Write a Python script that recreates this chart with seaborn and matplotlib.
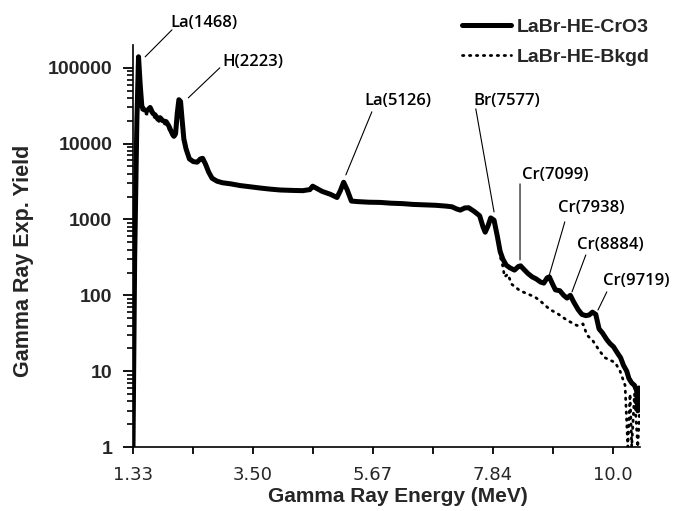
import matplotlib
matplotlib.use("Agg")
import matplotlib.pyplot as plt
from matplotlib.ticker import FixedLocator, NullFormatter
import seaborn as sns
import pandas as pd

# ---------------- data ----------------
energy_cro3 = [1.33, 1.36, 1.40, 1.43, 1.46, 1.49, 1.53, 1.58, 1.64, 1.69, 1.73, 1.78, 1.82,
               1.87, 1.93, 1.98, 2.03, 2.07, 2.10, 2.13, 2.16, 2.19, 2.22, 2.25, 2.29, 2.35,
               2.42, 2.49, 2.55, 2.59, 2.64, 2.70, 2.76, 2.85, 2.95, 3.10, 3.27, 3.45, 3.63,
               3.80, 3.99, 4.20, 4.40, 4.53, 4.58, 4.62, 4.75, 4.90, 5.02, 5.08, 5.14, 5.20,
               5.28, 5.40, 5.60, 5.80, 6.00, 6.20, 6.40, 6.60, 6.80, 7.00, 7.10, 7.18, 7.25,
               7.33, 7.40, 7.50, 7.60, 7.66, 7.70, 7.75, 7.80, 7.86, 7.92, 7.97, 8.02, 8.08,
               8.15, 8.23, 8.30, 8.34, 8.40, 8.47, 8.55, 8.62, 8.70, 8.76, 8.82, 8.86, 8.92,
               8.97, 9.05, 9.12, 9.18, 9.24, 9.30, 9.38, 9.45, 9.52, 9.58, 9.64, 9.70, 9.76,
               9.82, 9.90, 9.96, 10.02, 10.10, 10.15, 10.20, 10.26, 10.30, 10.35, 10.40,
               10.44, 10.46, 10.48, 10.50]
yield_cro3 = [1, 300, 20000, 140000, 60000, 31000, 28000, 27000, 30000, 25000, 24000, 21000, 22000,
              20000, 19500, 17000, 14000, 12500, 13500, 25000, 38000, 36000, 20000, 11500, 8500, 6300,
              5800, 5700, 6300, 6400, 5400, 4200, 3500, 3200, 3050, 2950, 2800, 2700, 2600,
              2520, 2450, 2420, 2400, 2480, 2750, 2650, 2350, 2150, 1950, 2400, 3100, 2500,
              1750, 1720, 1690, 1680, 1640, 1620, 1580, 1560, 1540, 1500, 1470, 1380, 1330,
              1420, 1430, 1280, 1120, 800, 680, 820, 1050, 980, 600, 380, 300, 250,
              230, 215, 240, 245, 220, 195, 175, 165, 150, 145, 170, 175, 140,
              118, 115, 100, 92, 100, 82, 65, 56, 54, 55, 60, 56, 36,
              32, 26, 23, 21, 17, 15, 12, 10, 8, 7, 6.5,
              5.5, 3, 6, 5]

energy_bkgd = [1.33, 1.36, 1.40, 1.43, 1.46, 1.49, 1.53, 1.58, 1.64, 1.69, 1.73, 1.78, 1.82,
               1.87, 1.93, 1.98, 2.03, 2.07, 2.10, 2.13, 2.16, 2.19, 2.22, 2.25, 2.29, 2.35,
               2.42, 2.49, 2.55, 2.59, 2.64, 2.70, 2.76, 2.85, 2.95, 3.10, 3.27, 3.45, 3.63,
               3.80, 3.99, 4.20, 4.40, 4.53, 4.58, 4.62, 4.75, 4.90, 5.02, 5.08, 5.14, 5.20,
               5.28, 5.40, 5.60, 5.80, 6.00, 6.20, 6.40, 6.60, 6.80, 7.00, 7.10, 7.18, 7.25,
               7.33, 7.40, 7.50, 7.60, 7.66, 7.70, 7.75, 7.80, 7.86, 7.92, 7.97, 8.02, 8.05,
               8.11, 8.18, 8.33, 8.46, 8.60, 8.69, 8.87, 9.00, 9.18, 9.36, 9.47, 9.54,
               9.65, 9.78, 9.87, 10.05, 10.14, 10.23, 10.28, 10.32, 10.35, 10.40, 10.46, 10.50]
yield_bkgd = [1, 280, 18000, 130000, 55000, 28000, 25500, 24500, 27500, 23000, 22000, 19500, 20000,
              18500, 18000, 15500, 13000, 11800, 12800, 24000, 37000, 35000, 19500, 11200, 8300, 6250,
              5750, 5650, 6250, 6350, 5350, 4170, 3470, 3170, 3020, 2920, 2780, 2680, 2580,
              2500, 2430, 2400, 2380, 2460, 2720, 2620, 2330, 2130, 1930, 2370, 3050, 2470,
              1730, 1700, 1670, 1660, 1620, 1600, 1560, 1540, 1520, 1480, 1450, 1360, 1310,
              1400, 1410, 1260, 1100, 790, 670, 800, 1030, 960, 560, 330, 240, 175,
              190, 140, 115, 105, 95, 85, 65, 58, 47, 40, 42, 30,
              25, 18, 15, 13, 10, 6.5, 1, 5, 1, 5, 1, 4]

series_labels = ["LaBr-HE-CrO3", "LaBr-HE-Bkgd"]

x_tick_values = [1.33, 3.50, 5.67, 7.84, 10.01]
x_tick_labels = ["1.33", "3.50", "5.67", "7.84", "10.0"]
x_minor_values = [2.415, 4.585, 6.755, 8.925]
y_tick_values = [1, 10, 100, 1000, 10000, 100000]
y_tick_labels = ["1", "10", "100", "1000", "10000", "100000"]
y_minor_mult = [2, 3, 4, 5, 6, 7, 8, 9]

peak_labels = ["La(1468)", "H(2223)", "La(5126)", "Br(7577)",
               "Cr(7099)", "Cr(7938)", "Cr(8884)", "Cr(9719)"]
# label text centre (energy, yield), leader line start and end (energy, yield)
peak_text_pos = [(2.61, 393000), (3.50, 120000), (6.12, 36700), (8.09, 36700),
                 (8.96, 3875), (9.61, 1422), (9.97, 462), (10.43, 155)]
peak_line_start = [(2.035, 317000), (2.90, 100000), (5.65, 26300), (7.53, 28800),
                   (8.33, 2950), (9.14, 930), (9.52, 341), (9.90, 111)]
peak_line_end = [(1.55, 139600), (2.33, 40200), (5.18, 3875), (7.86, 1259),
                 (8.33, 293), (8.85, 175), (9.27, 111), (9.74, 64)]

# ---------------- figure ----------------
sns.set_style("ticks")
plt.rcParams["font.family"] = ["Liberation Sans", "DejaVu Sans"]

fig = plt.figure(figsize=(6.83, 5.11), dpi=100)
ax = fig.add_axes([133 / 683, 1 - 447 / 511, 507 / 683, 402 / 511])

df_main = pd.DataFrame({"E": energy_cro3, "Y": yield_cro3})
df_bkgd = pd.DataFrame({"E": energy_bkgd, "Y": yield_bkgd})

sns.lineplot(data=df_bkgd, x="E", y="Y", ax=ax, color="black", lw=2.0,
             linestyle=(0, (0.5, 2.0)), dash_capstyle="round",
             label=series_labels[1], estimator=None, zorder=2)
sns.lineplot(data=df_main, x="E", y="Y", ax=ax, color="black", lw=3.6,
             solid_joinstyle="round", solid_capstyle="round",
             label=series_labels[0], estimator=None, zorder=3)

ax.set_yscale("log")
ax.set_ylim(1, 2.0e5)
ax.set_xlim(1.33, 10.5)

# spines
for s in ["top", "right"]:
    ax.spines[s].set_visible(False)
for s in ["left", "bottom"]:
    ax.spines[s].set_color("black")
    ax.spines[s].set_linewidth(1.2)

ax.set_xlabel("Gamma Ray Energy (MeV)", fontsize=15, fontweight="bold")
ax.set_ylabel("Gamma Ray Exp. Yield", fontsize=15.5, fontweight="bold")
ax.xaxis.set_label_coords((398 - 133) / 507, (447 - 496) / 402)
ax.yaxis.set_label_coords((24 - 133) / 507, (447 - 261) / 402)
ax.xaxis.label.set_va("center")
ax.yaxis.label.set_va("center")

# peak annotations
for lab, tp, ls, le in zip(peak_labels, peak_text_pos, peak_line_start, peak_line_end):
    ax.text(tp[0], tp[1], lab, ha="center", va="center", fontsize=12,
            family=["Open Sans", "DejaVu Sans"], fontweight="semibold",
            color="black", clip_on=False)
    ax.annotate("", xy=le, xytext=ls, xycoords="data", textcoords="data",
                annotation_clip=False,
                arrowprops=dict(arrowstyle="-", color="black", lw=0.8,
                                shrinkA=0, shrinkB=0))

# legend
handles, labels = ax.get_legend_handles_labels()
if ax.get_legend() is not None:
    ax.get_legend().remove()
order = [labels.index(series_labels[0]), labels.index(series_labels[1])]
fig.legend([handles[i] for i in order], [labels[i] for i in order],
           loc="upper left", bbox_to_anchor=(462 / 683, 1 - 18 / 511),
           frameon=False, prop={"weight": "bold", "size": 14},
           handlelength=2.5, handletextpad=0.3, labelspacing=0.65, borderpad=0,
           borderaxespad=0)

# ticks (set last)
y_minor_values = [m * d for d in y_tick_values for m in y_minor_mult if m * d < 2.0e5]
ax.xaxis.set_major_locator(FixedLocator(x_tick_values))
ax.xaxis.set_minor_locator(FixedLocator(x_minor_values))
ax.yaxis.set_major_locator(FixedLocator(y_tick_values))
ax.yaxis.set_minor_locator(FixedLocator(y_minor_values))
ax.set_xticklabels(x_tick_labels)
ax.set_yticklabels(y_tick_labels)
ax.xaxis.set_minor_formatter(NullFormatter())
ax.yaxis.set_minor_formatter(NullFormatter())
ax.tick_params(axis="y", which="major", direction="out", color="black", width=1.3,
               length=7, pad=8, left=True, right=False)
ax.tick_params(axis="y", which="minor", direction="out", color="black", width=1.2,
               length=4.5, left=True, right=False)
ax.tick_params(axis="x", which="major", direction="out", color="black", width=1.3,
               length=5, pad=9, bottom=True, top=False)
ax.tick_params(axis="x", which="minor", direction="out", color="black", width=1.3,
               length=5, bottom=True, top=False)
for t in ax.get_yticklabels():
    t.set_fontsize(14)
    t.set_fontweight("bold")
    t.set_fontfamily(["Liberation Sans", "DejaVu Sans"])
for t in ax.get_xticklabels():
    t.set_fontsize(13)
    t.set_fontfamily(["DejaVu Sans"])

fig.savefig("out.png", dpi=100)
